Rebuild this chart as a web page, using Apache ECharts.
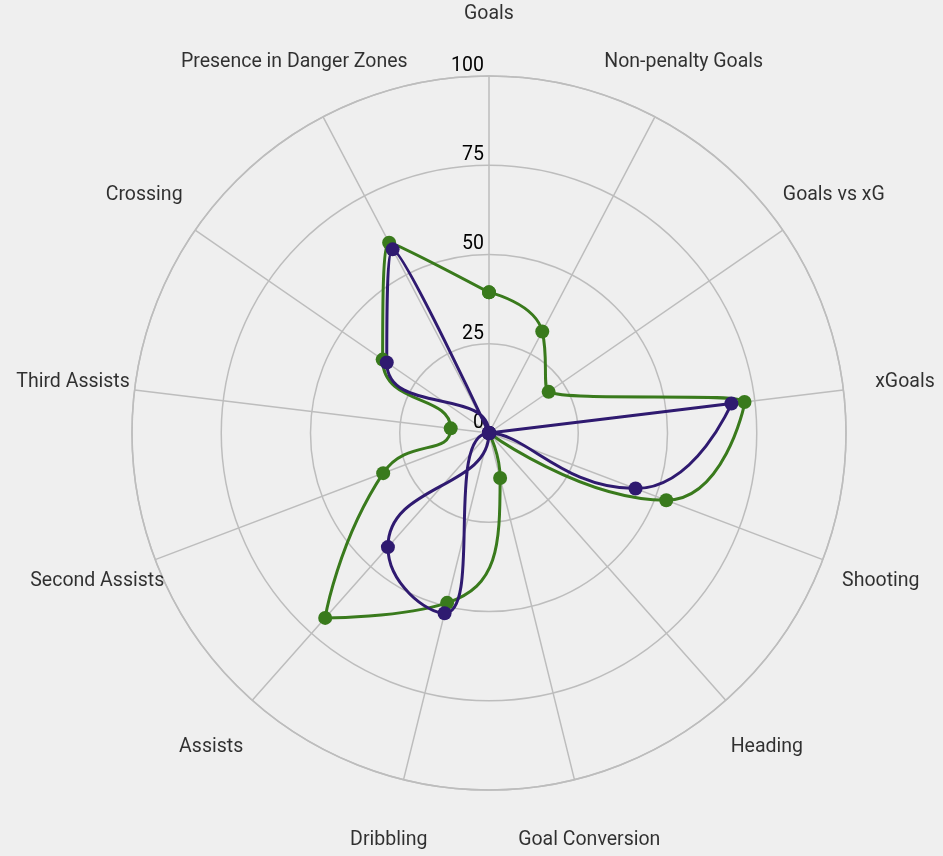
<!DOCTYPE html>
<html>
<head>
<meta charset="utf-8">
<script src="https://cdn.jsdelivr.net/npm/echarts@6/dist/echarts.min.js"></script>
<style>
  html, body { margin: 0; padding: 0; background: #efefef; }
  #chart { width: 943px; height: 856px; }
</style>
</head>
<body>
<div id="chart"></div>
<script>
// indicators, clockwise from the top
var categories = ['Goals', 'Non-penalty Goals', 'Goals vs xG', 'xGoals', 'Shooting', 'Heading',
    'Goal Conversion', 'Dribbling', 'Assists', 'Second Assists', 'Third Assists', 'Crossing',
    'Presence in Danger Zones'];
// percentile values
var greenValues = [39.4, 32.1, 20.3, 72.1, 53.1, 0, 13.0, 49.0, 69.2, 31.7, 10.8, 36.2, 60.2];
var purpleValues = [0, 0, 0, 68.4, 43.9, 0, 0, 52.0, 42.7, 0, 0, 34.8, 58.1];
var radiusTicks = [0, 25, 50, 75, 100];

//[radius, spoke index]; the first point is repeated at index 13 to close the loop
function loop(values) {
    var pts = values.map(function (v, i) { return [v, i]; });
    pts.push([values[0], categories.length]);
    return pts;
}

var chart = echarts.init(document.getElementById('chart'));
var gridColor = '#bdbdbd';
var textColor = '#000';
var font = 'Roboto';
var fontSize = 19.5;

var option = {
    backgroundColor: '#efefef',
    animation: false,
    polar: [
        { center: [489, 433], radius: 357 },
        { center: [489, 433], radius: 419 }   // only carries the indicator names
    ],
    angleAxis: [{
        polarIndex: 0,
        type: 'value',
        min: 0,
        max: categories.length,
        interval: 1,
        startAngle: 90,
        clockwise: true,
        axisLine: { show: true, lineStyle: { color: gridColor, width: 1.5 } },
        axisTick: { show: false },
        axisLabel: { show: false },
        splitLine: { show: true, lineStyle: { color: gridColor, width: 1.5 } }
    }, {
        polarIndex: 1,
        type: 'category',
        data: categories,
        startAngle: 90,
        clockwise: true,
        boundaryGap: false,
        show: false
    }],
    radiusAxis: [{
        polarIndex: 0,
        min: radiusTicks[0],
        max: radiusTicks[radiusTicks.length - 1],
        interval: 25,
        axisLine: { show: false },
        axisTick: { show: false },
        axisLabel: {
            show: true,
            margin: 5,
            align: 'right',
            verticalAlign: 'bottom',
            color: textColor,
            fontFamily: font,
            fontSize: fontSize
        },
        splitLine: { show: true, lineStyle: { color: gridColor, width: 1.5 } }
    }, {
        polarIndex: 1,
        min: 0,
        max: 1,
        show: false
    }],
    series: [{
        name: 'green',
        type: 'line',
        coordinateSystem: 'polar',
        polarIndex: 0,
        data: loop(greenValues),
        smooth: 0.55,
        symbol: 'circle',
        symbolSize: 14,
        lineStyle: { color: '#397a1c', width: 3 },
        itemStyle: { color: '#397a1c' }
    }, {
        name: 'purple',
        type: 'line',
        coordinateSystem: 'polar',
        polarIndex: 0,
        data: loop(purpleValues),
        smooth: 0.55,
        symbol: 'circle',
        symbolSize: 14,
        lineStyle: { color: '#2f1a70', width: 3 },
        itemStyle: { color: '#2f1a70' }
    }, {
        name: 'names',
        type: 'scatter',
        coordinateSystem: 'polar',
        polarIndex: 1,
        silent: true,
        symbolSize: 0,
        data: categories.map(function (c, i) { return [1, i]; }),
        label: {
            show: true,
            position: 'inside',
            color: textColor,
            fontFamily: font,
            fontSize: fontSize,
            formatter: function (p) { return categories[p.data[1]]; }
        }
    }]
};

chart.setOption(option);
</script>
</body>
</html>
